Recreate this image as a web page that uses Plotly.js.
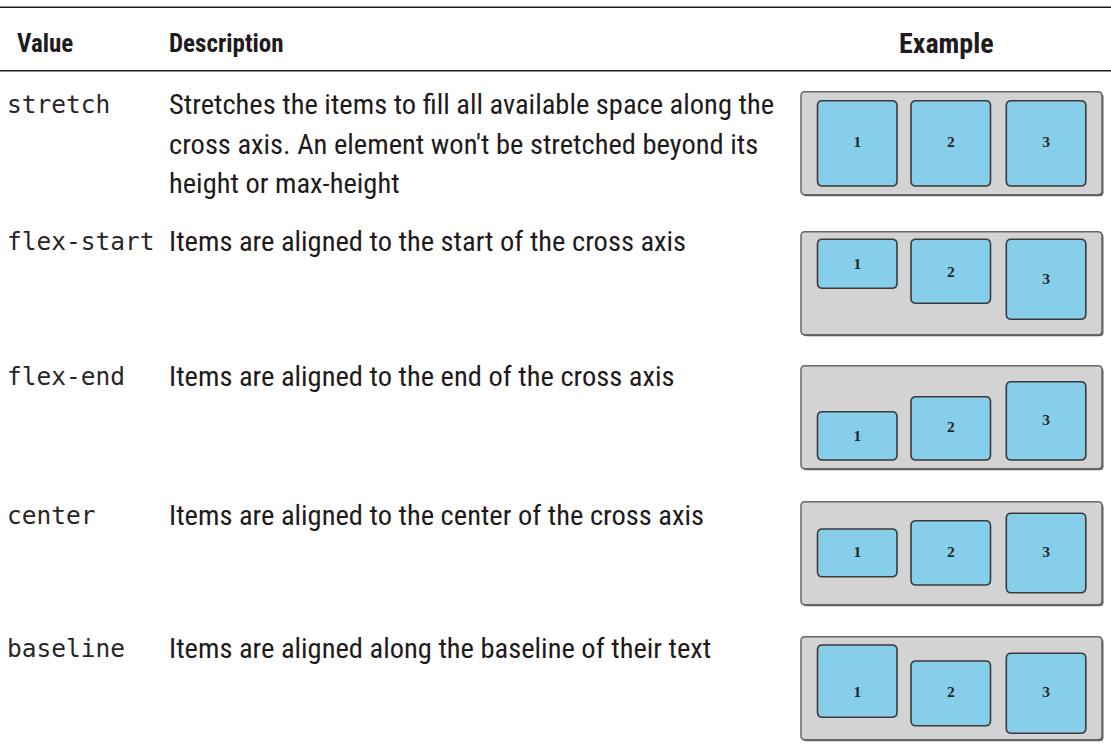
<!DOCTYPE html>
<html>
<head>
<meta charset="utf-8">
<script src="https://cdn.plot.ly/plotly-3.0.1.min.js"></script>
<style>html,body{margin:0;padding:0;background:#fff;}#chart{width:1111px;height:755px;}</style>
</head>
<body>
<div id="chart"></div>
<script>
// ---- data ----
const headers = ['Value', 'Description', 'Example'];
const alignValues = ['stretch', 'flex-start', 'flex-end', 'center', 'baseline'];
const descLines = [
  ['Stretches the items to fill all available space along the',
   "cross axis. An element won't be stretched beyond its",
   'height or max-height'],
  ['Items are aligned to the start of the cross axis'],
  ['Items are aligned to the end of the cross axis'],
  ['Items are aligned to the center of the cross axis'],
  ['Items are aligned along the baseline of their text']
];
const itemLabels = ['1', '2', '3'];
// item top / bottom inside each example container (container is 103 units tall)
const itemTop    = [[9, 9, 9], [7.6, 7.6, 7.6], [46, 31, 16], [27.3, 19, 11.6], [8.3, 24.3, 16.6]];
const itemBottom = [[94.3, 94.3, 94.3], [56.6, 71.6, 87.6], [94.3, 94.3, 94.3], [75, 83.3, 91], [80.6, 89, 96.6]];
// vertical position of the item label (text line) inside the container
const labelPos   = [[51.6, 51.6, 51.6], [33.3, 41.3, 48.3], [71, 62, 55], [51.6, 51.6, 51.6], [56.3, 56.3, 56.3]];

// ---- layout constants ----
const W = 1111, H = 755;
const ink = '#1f1b1c';
const sansNarrow = '"Liberation Sans Narrow", "Roboto Condensed", "Arial Narrow", "Liberation Sans", sans-serif';
const mono = '"DejaVu Sans Mono", monospace';
const colX = [15, 167, 946];
const headerY = 43;
const ruleY = [7.3, 70.8];
const rowTextY = [104.5, 241.7, 376.7, 515, 648];
const lineGap = 39.5;
const boxTop = [91.7, 231.7, 365.7, 501.7, 636.7];
const boxH = 103;
const boxL = 801, boxR = 1102;
const itemL = [16.5, 110, 205.3], itemW = 79.5;

function rrect(x0, y0, x1, y1, r) {
  return `M${x0 + r},${y0} H${x1 - r} Q${x1},${y0} ${x1},${y0 + r} V${y1 - r} Q${x1},${y1} ${x1 - r},${y1} H${x0 + r} Q${x0},${y1} ${x0},${y1 - r} V${y0 + r} Q${x0},${y0} ${x0 + r},${y0} Z`;
}

const shapes = [];
const annotations = [];

// rules
ruleY.forEach(y => shapes.push({type: 'line', xref: 'x', yref: 'y', x0: 0, x1: W, y0: y, y1: y,
  line: {color: ink, width: 1.6}}));

// header
headers.forEach((h, i) => annotations.push({
  xref: 'x', yref: 'y', x: colX[i], y: headerY, text: '<b>' + h + '</b>', showarrow: false,
  xanchor: i === 2 ? 'center' : 'left', yanchor: 'middle',
  font: {family: sansNarrow, size: i === 2 ? 28 : 25, color: ink}
}));

const lblX = [], lblY = [], lblT = [];
alignValues.forEach((v, r) => {
  annotations.push({xref: 'x', yref: 'y', x: 5, y: rowTextY[r], text: v, showarrow: false,
    xanchor: 'left', yanchor: 'middle', font: {family: mono, size: 24.5, color: '#2a2627'}});
  descLines[r].forEach((t, k) => annotations.push({xref: 'x', yref: 'y', x: colX[1], y: rowTextY[r] + k * lineGap,
    text: t, showarrow: false, xanchor: 'left', yanchor: 'middle',
    font: {family: sansNarrow, size: 28.5, color: ink}}));
  const t0 = boxTop[r];
  // container shadow + container
  shapes.push({type: 'path', layer: 'below', xref: 'x', yref: 'y', path: rrect(boxL + 1.5, t0 + 1.5, boxR + 1.5, t0 + boxH + 1.5, 4),
    fillcolor: '#5e5e5e', line: {width: 0}});
  shapes.push({type: 'path', layer: 'below', xref: 'x', yref: 'y', path: rrect(boxL, t0, boxR, t0 + boxH, 4),
    fillcolor: '#d3d3d3', line: {color: '#666666', width: 1.5}});
  itemLabels.forEach((lab, i) => {
    const x0 = boxL + itemL[i], x1 = x0 + itemW;
    shapes.push({type: 'path', layer: 'below', xref: 'x', yref: 'y',
      path: rrect(x0, t0 + itemTop[r][i], x1, t0 + itemBottom[r][i], 5),
      fillcolor: '#87ceeb', line: {color: '#3a3a3a', width: 1.6}});
    lblX.push(x0 + itemW / 2); lblY.push(t0 + labelPos[r][i]); lblT.push(lab);
  });
});

const traces = [{
  type: 'scatter', mode: 'text', x: lblX, y: lblY, text: lblT,
  textposition: 'middle center', hoverinfo: 'skip',
  textfont: {family: '"Liberation Serif", "DejaVu Serif", serif', size: 15.5, color: '#262626', weight: 'bold'}
}];

const layout = {
  width: W, height: H, margin: {l: 0, r: 0, t: 0, b: 0},
  paper_bgcolor: '#ffffff', plot_bgcolor: 'rgba(0,0,0,0)', showlegend: false,
  xaxis: {range: [0, W], visible: false, fixedrange: true},
  yaxis: {range: [H, 0], visible: false, fixedrange: true},
  shapes: shapes, annotations: annotations
};
Plotly.newPlot('chart', traces, layout, {staticPlot: true, displayModeBar: false});
</script>
</body>
</html>
